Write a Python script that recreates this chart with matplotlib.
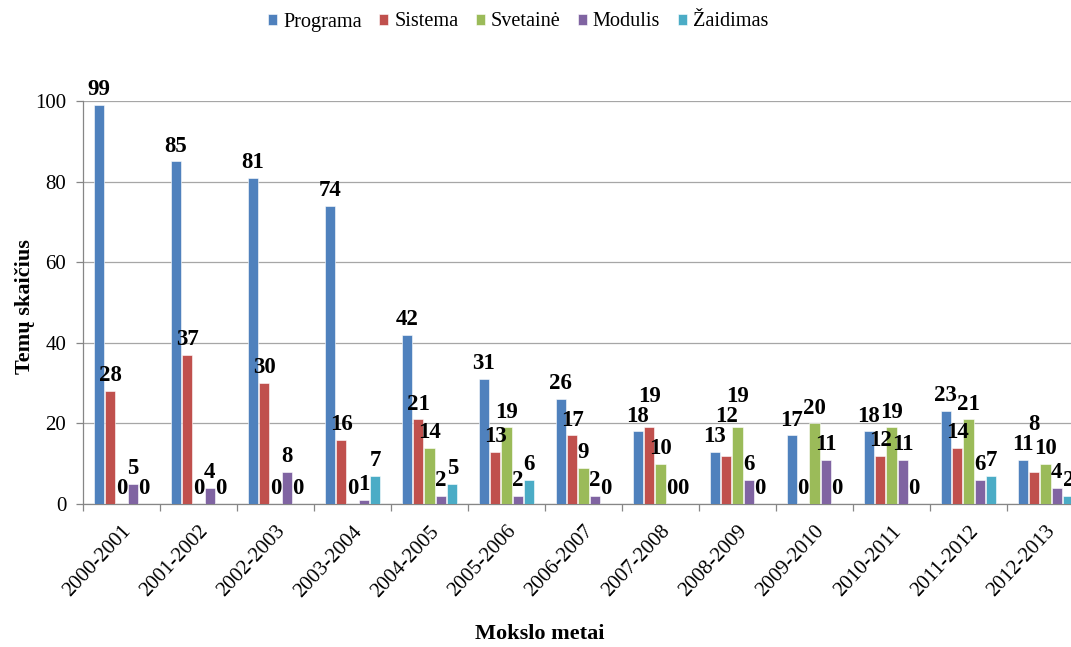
import numpy as np
import matplotlib
matplotlib.use("Agg")
import matplotlib.pyplot as plt

years = ["2000-2001", "2001-2002", "2002-2003", "2003-2004", "2004-2005",
         "2005-2006", "2006-2007", "2007-2008", "2008-2009", "2009-2010",
         "2010-2011", "2011-2012", "2012-2013"]
series_names = ["Programa", "Sistema", "Svetainė", "Modulis", "Žaidimas"]
programa = [99, 85, 81, 74, 42, 31, 26, 18, 13, 17, 18, 23, 11]
sistema = [28, 37, 30, 16, 21, 13, 17, 19, 12, 0, 12, 14, 8]
svetaine = [0, 0, 0, 0, 14, 19, 9, 10, 19, 20, 19, 21, 10]
modulis = [5, 4, 8, 1, 2, 2, 2, 0, 6, 11, 11, 6, 4]
zaidimas = [0, 0, 0, 7, 5, 6, 0, 0, 0, 0, 0, 7, 2]
colors = ["#4F81BD", "#C0504D", "#9BBB59", "#8064A2", "#4BACC6"]

plt.rcParams["font.family"] = ["Liberation Serif", "DejaVu Serif"]

W, H = 1071, 647
fig = plt.figure(figsize=(W / 100, H / 100), dpi=100)
# axes run a little past the right edge, as in the cropped original
ax = fig.add_axes([83 / W, 1 - 504 / H, (1084 - 83) / W, (504 - 101) / H])

x = np.arange(len(years))
slot = 0.148
data = [programa, sistema, svetaine, modulis, zaidimas]

# rough label box in data units, used to keep labels from colliding
DIGIT_W = 0.145      # category units per digit
LABEL_H = 4.6        # value units
PAD = 1.2

placed = {g: [] for g in range(len(years))}
for i, (name, vals, c) in enumerate(zip(series_names, data, colors)):
    pos = x + (i - 2) * slot
    ax.bar(pos, vals, width=slot * 0.88, color=c, label=name,
           edgecolor="white", linewidth=0.4, zorder=3)
    for g, (xc, v) in enumerate(zip(pos, vals)):
        w = len(str(v)) * DIGIT_W
        y = v + PAD
        moved = True
        while moved:
            moved = False
            for (px0, px1, py0, py1) in placed[g]:
                if xc - w / 2 < px1 and xc + w / 2 > px0 and y < py1 and y + LABEL_H > py0:
                    y = py1 + 0.3
                    moved = True
        placed[g].append((xc - w / 2, xc + w / 2, y, y + LABEL_H))
        ax.text(xc, y, f"{v}", ha="center", va="bottom", fontsize=16.5,
                fontweight="bold", zorder=4, clip_on=False)

ax.set_xlim(-0.5, len(years) - 0.5)
ax.set_ylim(0, 100)
ax.set_yticks(range(0, 101, 20))
ax.grid(axis="y", color="#a6a6a6", lw=0.9, zorder=0)
ax.set_axisbelow(True)

# tick marks on the category boundaries, labels under the group centres
ax.set_xticks(np.arange(-0.5, len(years), 1.0))
ax.set_xticklabels([])
ax.set_xticks(x, minor=True)
ax.set_xticklabels(years, minor=True, rotation=47, ha="right", va="top",
                   rotation_mode="anchor", fontsize=15)
ax.tick_params(axis="x", which="minor", length=0, pad=13)
ax.tick_params(axis="x", which="major", length=5, color="#868686", width=0.9)
ax.tick_params(axis="y", length=5, pad=7, color="#868686", width=0.9, labelsize=15)

for s in ("top", "right"):
    ax.spines[s].set_visible(False)
for s in ("left", "bottom"):
    ax.spines[s].set_color("#868686")
    ax.spines[s].set_linewidth(0.9)

fig.text(25 / W, 1 - 307 / H, "Temų skaičius", rotation=90, ha="center",
         va="center", fontsize=16, fontweight="bold")
fig.text(540 / W, 1 - 634 / H, "Mokslo metai", ha="center", va="center",
         fontsize=16, fontweight="bold")

fig.legend(loc="center", bbox_to_anchor=(518 / W, 1 - 22 / H), ncol=5,
           frameon=False, fontsize=14.6, handlelength=0.45, handleheight=0.45,
           handletextpad=0.3, columnspacing=0.85)

fig.savefig("out.png", dpi=100)
